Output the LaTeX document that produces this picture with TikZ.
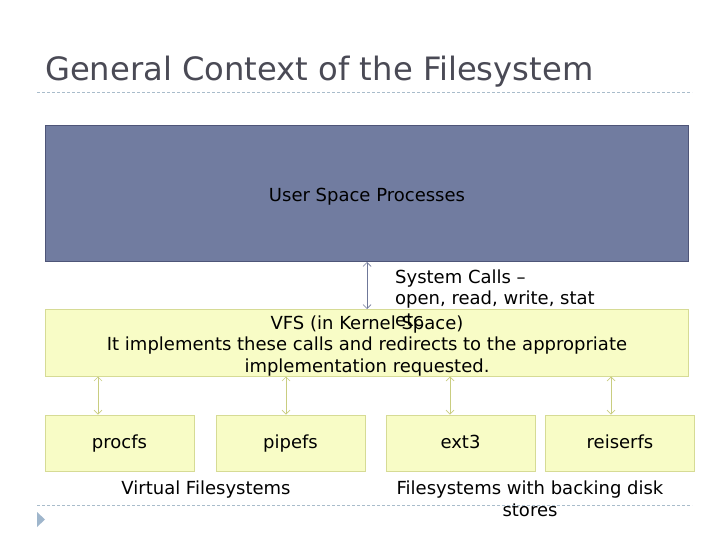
\documentclass[tikz,border=0pt]{standalone}
\usepackage{fontspec}
\setmainfont{DejaVu Sans}
\usetikzlibrary{arrows.meta}
\definecolor{titlec}{HTML}{4A4A55}
\definecolor{userfill}{HTML}{717CA0}
\definecolor{userdraw}{HTML}{4E5578}
\definecolor{vfsfill}{HTML}{F8FCC6}
\definecolor{vfsdraw}{HTML}{D6DB95}
\definecolor{dotc}{HTML}{A9BCCB}
\definecolor{syscallc}{HTML}{6F7899}
\definecolor{fsarrowc}{HTML}{C9CD80}
\definecolor{trianc}{HTML}{9FB6CC}
\begin{document}
\begin{tikzpicture}[x=1pt,y=-1pt,
  userbox/.style={draw=userdraw,fill=userfill,line width=1pt,inner sep=0pt},
  kbox/.style={draw=vfsdraw,fill=vfsfill,line width=0.8pt,inner sep=0pt},
  fsbox/.style={kbox,minimum width=149pt,minimum height=56pt,text height=13pt,text depth=2pt,font=\fontsize{18}{21.5}\selectfont},
  dblarrow/.style={{Straight Barb[length=4pt,width=8pt]}-{Straight Barb[length=4pt,width=8pt]},line width=0.7pt},
  sepline/.style={draw=dotc,dashed,dash pattern=on 3pt off 2pt,line width=0.6pt},
  bodytext/.style={font=\fontsize{18}{21.5}\selectfont,inner sep=0pt}
]
\useasboundingbox (0,0) rectangle (728,546);
\fill[white] (0,0) rectangle (728,546);
% title
\node[anchor=base west,inner sep=0pt,text=titlec,font=\fontsize{32.2}{36}\selectfont] (title) at (45,80) {General Context of the Filesystem};
\coordinate (tl1) at (37,92);
\coordinate (tl2) at (692,92);
\draw[sepline] (tl1) -- (tl2);
% user space
\node[userbox,minimum width=643pt,minimum height=136pt] (user) at (366.5,193) {};
\node[bodytext,anchor=base] (usertext) at (367,201) {User Space Processes};
% VFS
\node[kbox,minimum width=643pt,minimum height=67pt] (vfs) at (366.5,342.5) {};
\node[bodytext,anchor=base,align=center] (vfstext) at (367,372) {VFS (in Kernel Space)\\It implements these calls and redirects to the appropriate\\implementation requested.};
% system calls
\node[bodytext,anchor=base west,align=left] (sys) at (395,326) {System Calls –\\open, read, write, stat\\etc};
\coordinate (ua) at (367,262);
\coordinate (va) at (367,309);
\draw[dblarrow,draw=syscallc] (ua) -- (va);
% fs boxes
\node[fsbox] (procfs) at (119.5,443) {procfs};
\node[fsbox] (pipefs) at (290.5,443) {pipefs};
\node[fsbox] (ext3) at (460.5,443) {ext3};
\node[fsbox] (reiserfs) at (620,443) {reiserfs};
\foreach \n/\x in {procfs/98,pipefs/286,ext3/450,reiserfs/611}{
  \draw[dblarrow,draw=fsarrowc] (\x,376.5) -- (\n.north -| \x,0);
}
% labels
\node[bodytext,anchor=base] (virt) at (206,494) {Virtual Filesystems};
\node[bodytext,anchor=base,align=center] (backing) at (530,516) {Filesystems with backing disk\\stores};
\coordinate (bl1) at (37,505);
\coordinate (bl2) at (692,505);
\draw[sepline] (bl1) -- (bl2);
\fill[trianc] (37,512) -- (45,519.5) -- (37,527) -- cycle;
\end{tikzpicture}
\end{document}
